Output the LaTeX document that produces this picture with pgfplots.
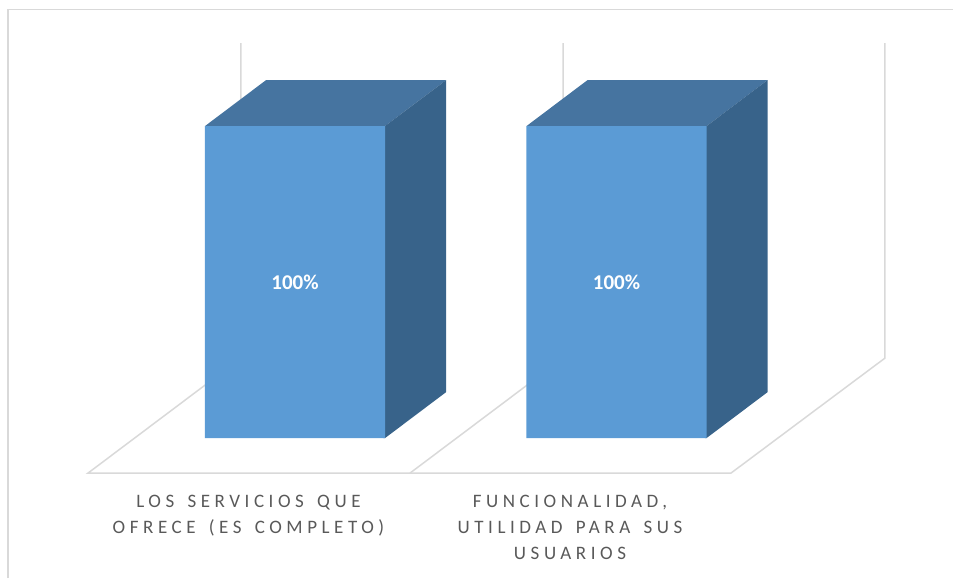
\documentclass[border=0pt]{standalone}
\usepackage{pgfplots}
\pgfplotsset{compat=1.18}
\usepackage{fontspec}
\setmainfont{Carlito}
\newfontfamily\spaced[LetterSpace=24,WordSpace=1.5]{Carlito}
\definecolor{front}{HTML}{5B9BD5}
\definecolor{topface}{HTML}{4674A0}
\definecolor{sideface}{HTML}{38638A}
\definecolor{gridc}{HTML}{D9D9D9}
\definecolor{labc}{HTML}{595959}
\begin{document}
\begin{tikzpicture}
\begin{axis}[
  scale only axis, width=953pt, height=578pt,
  xmin=-0.9176, xmax=2.0467, ymin=-44.87, ymax=140.38,
  axis line style={draw=none},
  major tick length=0pt,
  ytick=\empty,
  xtick={0,1},
  xticklabels={{LOS SERVICIOS QUE\\OFRECE (ES COMPLETO)},{FUNCIONALIDAD,\\UTILIDAD PARA SUS\\USUARIOS}},
  xticklabel style={align=center, xshift=-46.5pt, yshift=83pt, font=\spaced\fontsize{19}{26}\selectfont, text=labc, inner sep=0pt},
]
% outer frame
\addplot[gridc, line width=1.5pt] coordinates {(-0.8927,-44.87)(-0.8927,137.34)(2.0467,137.34)};
% floor and back walls
\addplot[gridc, line width=1.5pt] coordinates {(-0.168,126.6)(-0.168,25.64)(-0.6439,-11.22)(1.3561,-11.22)(1.8351,25.64)(1.8351,126.6)};
\addplot[gridc, line width=1.5pt] coordinates {(0.3577,-11.22)(0.8336,25.64)(0.8336,126.6)};
% top faces
\addplot[fill=topface, draw=none] coordinates {(-0.28,100)(0.28,100)(0.47,114.74)(-0.09,114.74)} -- cycle;
\addplot[fill=topface, draw=none] coordinates {(0.72,100)(1.28,100)(1.47,114.74)(0.91,114.74)} -- cycle;
% side faces
\addplot[fill=sideface, draw=none] coordinates {(0.275,0)(0.28,0)(0.47,14.74)(0.47,114.74)(0.28,100)(0.275,100)} -- cycle;
\addplot[fill=sideface, draw=none] coordinates {(1.275,0)(1.28,0)(1.47,14.74)(1.47,114.74)(1.28,100)(1.275,100)} -- cycle;
% front faces
\addplot[ybar, bar width=0.56, fill=front, draw=none,
  /pgf/number format/assume math mode=true,
  nodes near coords={\pgfmathprintnumber{\pgfplotspointmeta}\%},
  every node near coord/.append style={anchor=center, yshift=-156pt, text=white, font=\bfseries\fontsize{21}{23}\selectfont}]
  coordinates {(0,100)(1,100)};
\end{axis}
\end{tikzpicture}
\end{document}
